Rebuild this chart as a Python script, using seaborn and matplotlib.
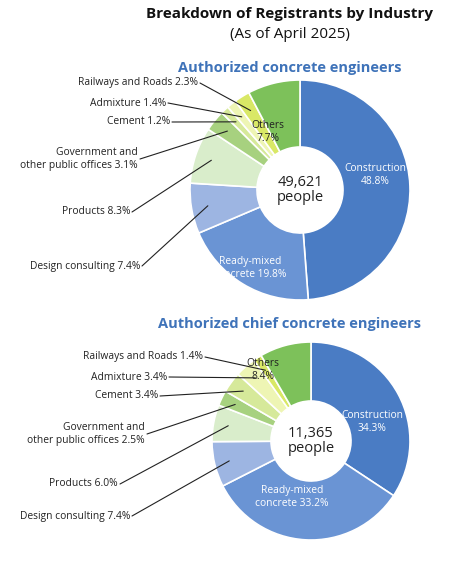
import numpy as np
import matplotlib.pyplot as plt
import seaborn as sns

sns.set_theme(style="white")
plt.rcParams["font.family"] = ["Open Sans", "DejaVu Sans"]

industries = ["Construction", "Ready-mixed concrete", "Design consulting", "Products",
              "Government and other public offices", "Cement", "Admixture",
              "Railways and Roads", "Others"]
engineers = [48.8, 19.8, 7.4, 8.3, 3.1, 1.2, 1.4, 2.3, 7.7]
chief_engineers = [34.3, 33.2, 7.4, 6.0, 2.5, 3.4, 3.4, 1.4, 8.4]
totals = ["49,621", "11,365"]
colors = ["#4a7cc4", "#6a94d4", "#9db5e2", "#d9edcb", "#a7d17f",
          "#d6e99a", "#eef5b4", "#d9e866", "#7dc15a"]

H = 563
fig = plt.figure(figsize=(4.5, 5.63), dpi=100)
ax = fig.add_axes([0, 0, 1, 1])

def py(y):
    return H - y

def donut(vals, cx, cy, r, hole, total, inside, outside):
    ax.pie(vals, colors=colors, startangle=90, counterclock=False, center=(cx, py(cy)),
           radius=r, wedgeprops=dict(width=r - hole, edgecolor="white", linewidth=1.2),
           frame=True)
    ax.text(cx, py(cy), f"{total}\npeople", ha="center", va="center", fontsize=10.5,
            linespacing=1.05, color="#222222")
    for i, (tx, ty, col) in inside.items():
        if i == 1:
            lab = f"Ready-mixed\nconcrete {vals[i]}%"
        else:
            lab = f"{industries[i]}\n{vals[i]}%"
        ax.text(tx, py(ty), lab, ha="center", va="center", fontsize=7.4, color=col,
                linespacing=1.15)
    cum = np.cumsum([0] + vals)
    for i, (tx, ty, text) in outside.items():
        mid = 90 - 3.6 * (cum[i] + vals[i] / 2)
        ex = cx + 0.85 * r * np.cos(np.radians(mid))
        ey = py(cy) + 0.85 * r * np.sin(np.radians(mid))
        ax.text(tx, py(ty), text.format(v=vals[i]), ha="right", va="center", fontsize=7.4,
                color="#222222", linespacing=1.15)
        ax.plot([tx + 2, ex], [py(ty), ey], color="#222222", lw=0.8)

ax.text(290, py(14), "Breakdown of Registrants by Industry", ha="center", va="center",
        fontsize=11, fontweight="bold", color="#111111")
ax.text(290, py(34), "(As of April 2025)", ha="center", va="center", fontsize=11,
        color="#111111")
ax.text(290, py(68), "Authorized concrete engineers", ha="center", va="center",
        fontsize=10.5, fontweight="bold", color="#3f73b9")
ax.text(290, py(324), "Authorized chief concrete engineers", ha="center", va="center",
        fontsize=10.5, fontweight="bold", color="#3f73b9")

donut(engineers, 300, 190, 110, 43, totals[0],
      {0: (375, 175, "white"), 1: (250, 268, "white"), 8: (268, 132, "#222222")},
      {7: (198, 83, "Railways and Roads {v}%"), 6: (166, 103, "Admixture {v}%"),
       5: (170, 122, "Cement {v}%"),
       4: (138, 159, "Government and\nother public offices {v}%"),
       3: (130, 212, "Products {v}%"), 2: (140, 266, "Design consulting {v}%")})
donut(chief_engineers, 311, 441, 99, 40, totals[1],
      {0: (372, 422, "white"), 1: (292, 497, "white"), 8: (263, 370, "#222222")},
      {7: (203, 357, "Railways and Roads {v}%"), 6: (167, 377, "Admixture {v}%"),
       5: (158, 396, "Cement {v}%"),
       4: (145, 434, "Government and\nother public offices {v}%"),
       3: (118, 484, "Products {v}%"), 2: (130, 516, "Design consulting {v}%")})
ax.set_xlim(0, 450)
ax.set_ylim(0, H)
ax.set_aspect("equal")
ax.axis("off")

fig.savefig("out.png", dpi=100)
